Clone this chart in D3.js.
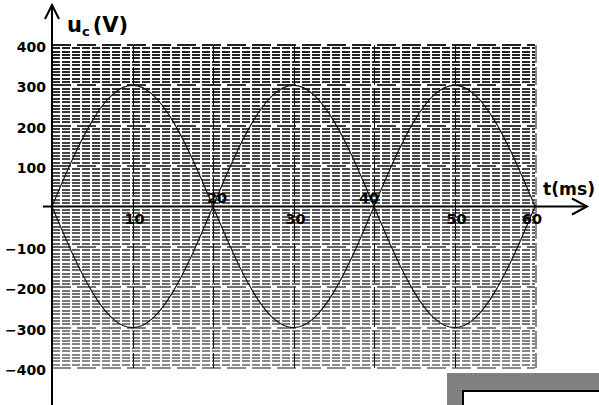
<!DOCTYPE html>
<html>
<head>
<meta charset="utf-8">
<script src="https://cdn.jsdelivr.net/npm/d3@7"></script>
<style>
  html, body { margin: 0; padding: 0; background: #fff; }
  svg { display: block; }
  text { font-family: "DejaVu Sans", sans-serif; font-weight: bold; fill: #000; }
</style>
</head>
<body>
<svg id="chart" width="599" height="405"></svg>
<script>
// time samples (ms) and capacitor voltage readings (V)
const tMs = [0, 2.5, 5, 7.5, 10, 12.5, 15, 17.5, 20, 22.5, 25, 27.5, 30,
             32.5, 35, 37.5, 40, 42.5, 45, 47.5, 50, 52.5, 55, 57.5, 60];
const ucA = [0, 115, 212, 277, 300, 277, 212, 115, 0, -115, -212, -277, -300,
             -277, -212, -115, 0, 115, 212, 277, 300, 277, 212, 115, 0];
const ucB = [0, -115, -212, -277, -300, -277, -212, -115, 0, 115, 212, 277, 300,
             277, 212, 115, 0, -115, -212, -277, -300, -277, -212, -115, 0];

const yTicks = [400, 300, 200, 100, -100, -200, -300, -400];
const xTicks = [10, 20, 30, 40, 50, 60];
const minorPerMajor = 12;

const svg = d3.select("#chart");
const x = d3.scaleLinear().domain([0, 60]).range([52, 535]);
const y = d3.scaleLinear().domain([-400, 400]).range([368, 45]);
const shade = d3.scaleLinear().domain([400, -400]).range(["#202020", "#8c8c8c"]);

// fine horizontal grid
const grid = svg.append("g").attr("shape-rendering", "crispEdges");
const minor = d3.range(-400, 400.001, 100 / minorPerMajor)
  .filter(v => Math.abs(v / 100 - Math.round(v / 100)) > 1e-6);
grid.selectAll("line.minor").data(minor).join("line")
  .attr("x1", x(0)).attr("x2", x(60))
  .attr("y1", d => Math.round(y(d))).attr("y2", d => Math.round(y(d)))
  .attr("stroke", d => shade(d)).attr("stroke-width", 1.6)
  .attr("stroke-dasharray", "8,2");

// major horizontal lines every 100 V
grid.selectAll("line.major").data(d3.range(-400, 401, 100).filter(d => d !== 0)).join("line")
  .attr("x1", x(0)).attr("x2", x(60))
  .attr("y1", d => Math.round(y(d))).attr("y2", d => Math.round(y(d)))
  .attr("stroke", d => shade(d)).attr("stroke-width", 1.6)
  .attr("stroke-dasharray", "19,6");

// vertical lines every 10 ms
grid.selectAll("line.v").data(xTicks).join("line")
  .attr("x1", d => Math.round(x(d)) + 0.5).attr("x2", d => Math.round(x(d)) + 0.5)
  .attr("y1", y(400)).attr("y2", y(-400))
  .attr("stroke", d => d === 60 ? "#8a8a8a" : "#111")
  .attr("stroke-width", d => d === 60 ? 2 : 1)
  .attr("stroke-dasharray", "18,4");

// voltage curves
const line = d3.line().x((d, i) => x(tMs[i])).y(d => y(d)).curve(d3.curveNatural);
[ucA, ucB].forEach(s => {
  svg.append("path").datum(s).attr("d", line)
    .attr("fill", "none").attr("stroke", "#111").attr("stroke-width", 1.1);
});

// axes with open arrowheads
const axes = svg.append("g").attr("stroke", "#000").attr("stroke-width", 2).attr("fill", "none");
axes.append("line").attr("x1", x(0)).attr("x2", x(0)).attr("y1", 405).attr("y2", 5);
axes.append("path").attr("d", `M${x(0) - 7},${19} L${x(0)},${5} L${x(0) + 7},${19}`);
axes.append("line").attr("x1", 43).attr("x2", 587).attr("y1", y(0)).attr("y2", y(0));
axes.append("path").attr("d", `M${572},${y(0) - 8} L${587},${y(0)} L${572},${y(0) + 8}`);

// y tick labels
svg.selectAll("text.yl").data(yTicks).join("text")
  .attr("x", 46).attr("y", d => y(d) + 7)
  .attr("text-anchor", "end").attr("font-size", 14)
  .text(d => d < 0 ? "\u2212" + Math.abs(d) : d);

// x tick labels: 20 and 40 sit above the axis
svg.selectAll("text.xl").data(xTicks).join("text")
  .attr("x", d => x(d) + ((d === 20 || d === 40) ? (d === 20 ? 4 : -5) : (d === 60 ? -3 : 2)))
  .attr("y", d => (d === 20 || d === 40) ? y(0) - 4 : y(0) + 17)
  .attr("text-anchor", "middle").attr("font-size", 14.5)
  .text(d => d);

// axis titles
const uLabel = svg.append("text").attr("x", 67).attr("y", 32).attr("font-size", 21);
uLabel.append("tspan").text("u");
uLabel.append("tspan").attr("font-size", 13).attr("dy", 4).text("c");
uLabel.append("tspan").attr("dy", -4).attr("dx", 3).text("(V)");
svg.append("text").attr("x", 543).attr("y", 195).attr("font-size", 18.5)
  .attr("textLength", 52).attr("lengthAdjust", "spacingAndGlyphs").text("t(ms)");

// framed panel in the lower right corner
svg.append("rect").attr("x", 447).attr("y", 373).attr("width", 152).attr("height", 32).attr("fill", "#808080");
svg.append("rect").attr("x", 463).attr("y", 391).attr("width", 136).attr("height", 14).attr("fill", "#fff");
svg.append("path").attr("d", "M463,405 L463,391 L599,391")
  .attr("fill", "none").attr("stroke", "#000").attr("stroke-width", 2);
</script>
</body>
</html>
